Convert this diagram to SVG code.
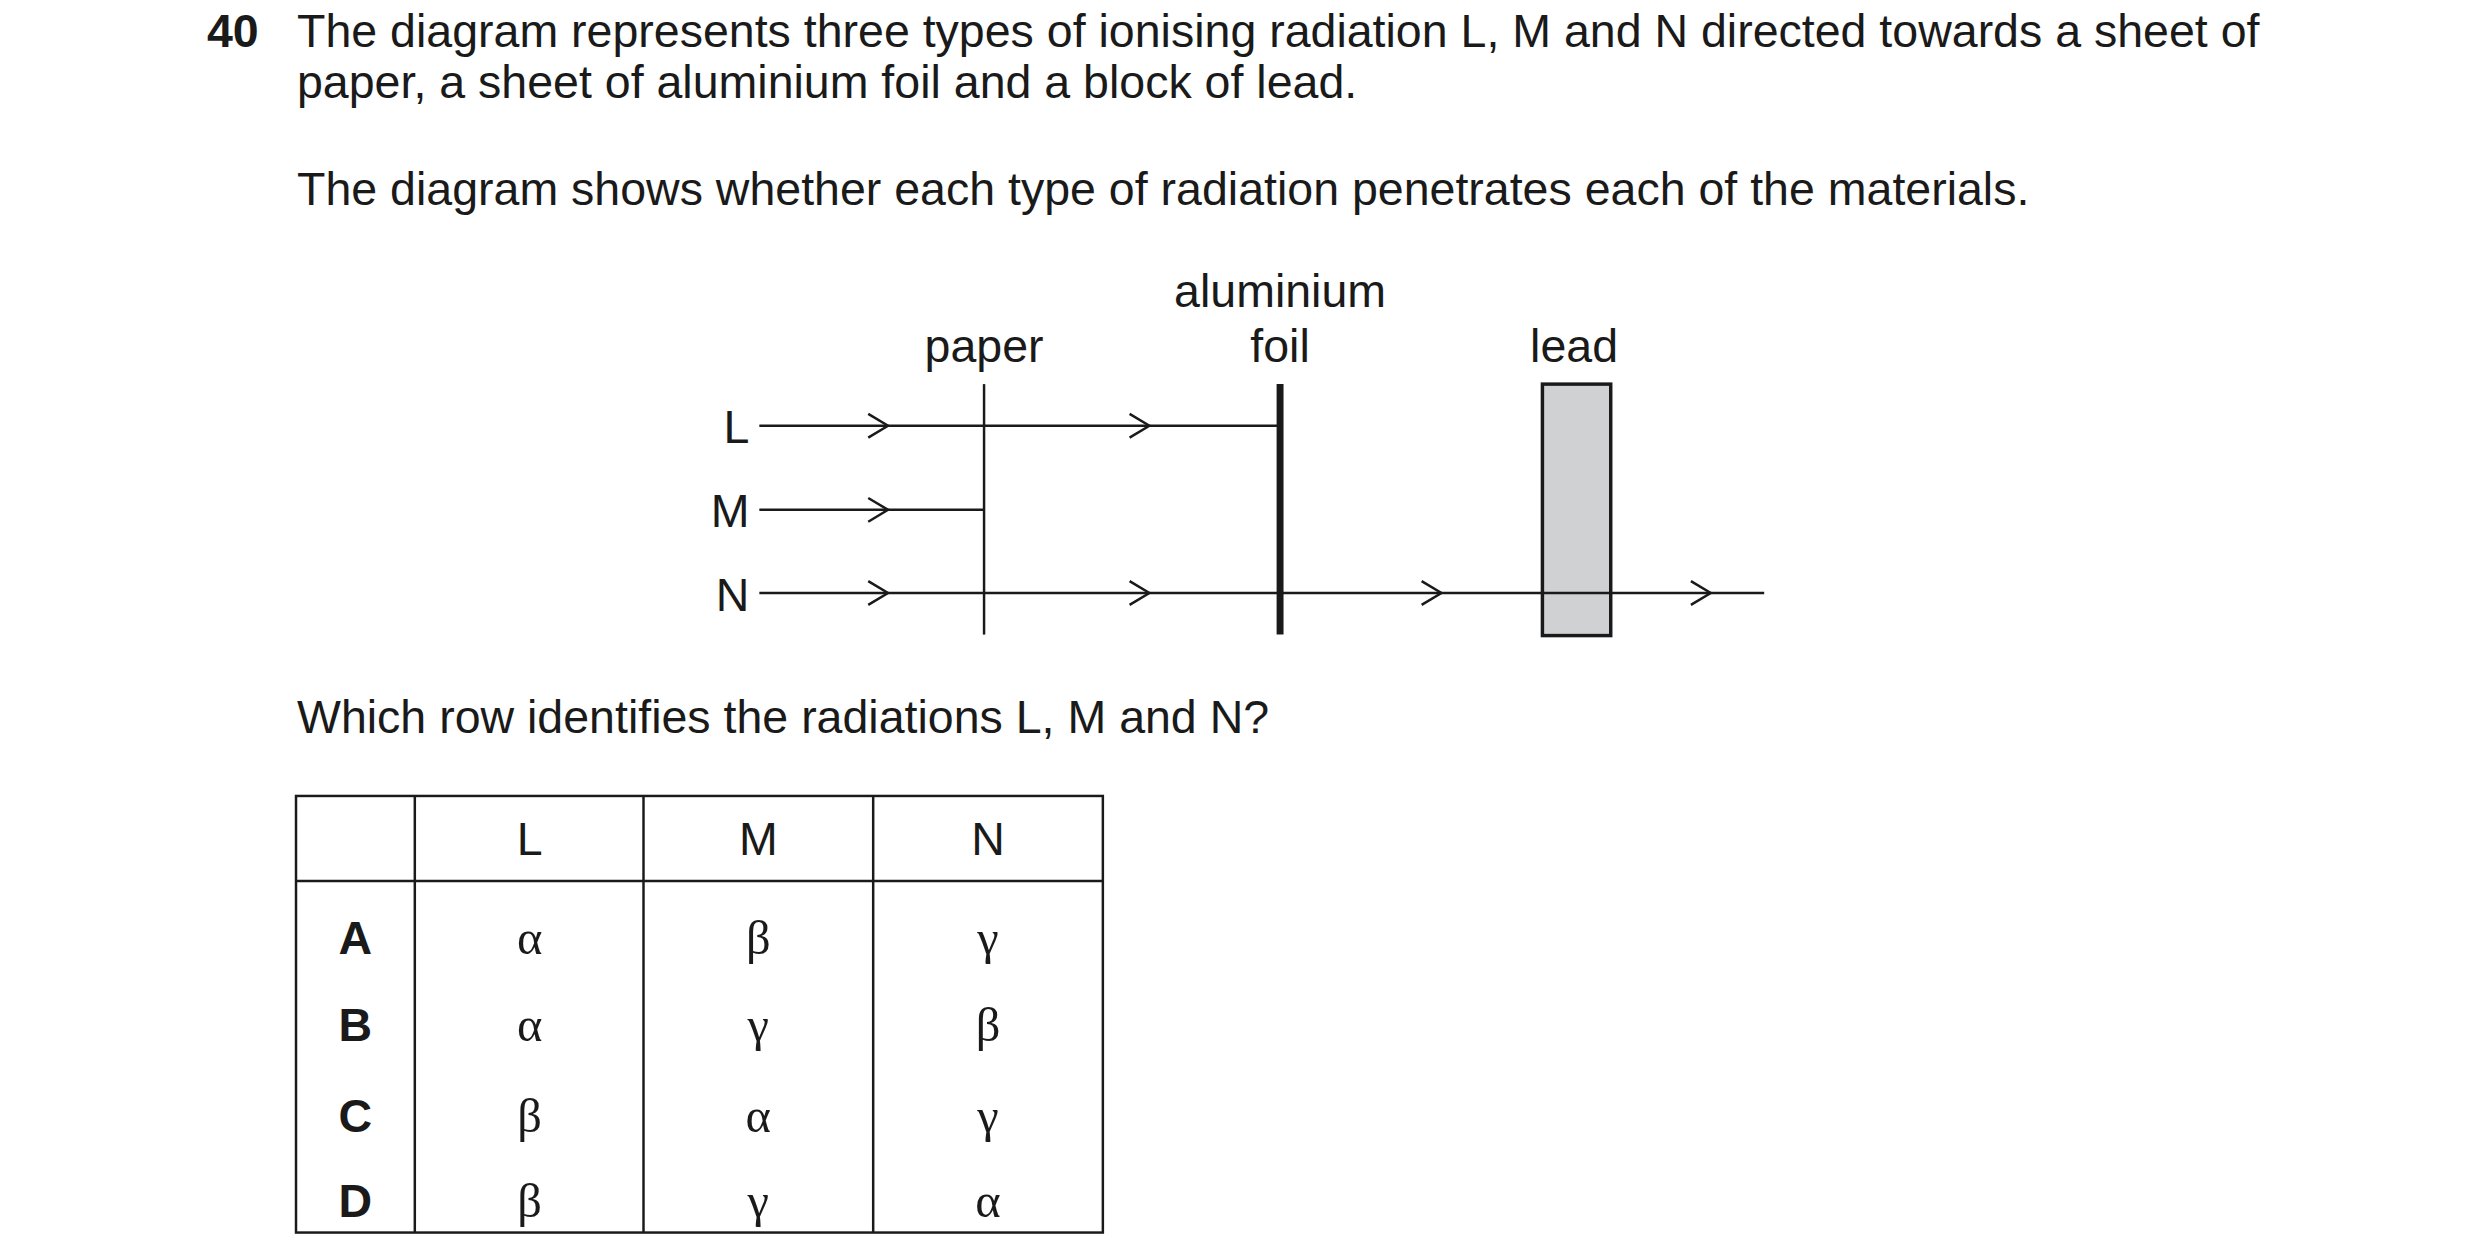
<svg xmlns="http://www.w3.org/2000/svg" width="2480" height="1258" viewBox="0 0 2480 1258">
<style>
text{font-family:"Liberation Sans",Arial,sans-serif;font-size:47px;fill:#1a1a1a}
.b{font-weight:bold}
.c{text-anchor:middle}
.g{font-family:"Liberation Serif","Times New Roman",serif;font-size:49px}
.ln{stroke:#1a1a1a;stroke-width:2.5;fill:none}
.ar{stroke:#1a1a1a;stroke-width:2.5;fill:none}
.tb{stroke:#1a1a1a;stroke-width:2.5;fill:none}
</style>
<defs><path id="ah" d="M-20,-12 L0,0 L-20,12" class="ar"/></defs>
<rect width="2480" height="1258" fill="#fff"/>
<g transform="scale(0.99)">
<text x="209" y="47" class="b">40</text>
<text x="300" y="47">The diagram represents three types of ionising radiation L, M and N directed towards a sheet of</text>
<text x="300" y="99">paper, a sheet of aluminium foil and a block of lead.</text>
<text x="300" y="207">The diagram shows whether each type of radiation penetrates each of the materials.</text>
<g id="paper"><text x="994" y="366" class="c">paper</text><line x1="994" y1="388" x2="994" y2="641" class="ln"/></g>
<g id="foil"><text x="1293" y="310" class="c">aluminium</text><text x="1293" y="366" class="c">foil</text><line x1="1293" y1="388" x2="1293" y2="641" stroke="#1a1a1a" stroke-width="7"/></g>
<g id="lead"><text x="1590" y="366" class="c">lead</text><rect x="1558" y="388" width="69" height="254" fill="#d0d1d3" stroke="#1a1a1a" stroke-width="3.5"/></g>
<g id="labels"><text x="757" y="447" text-anchor="end">L</text><text x="757" y="532" text-anchor="end">M</text><text x="757" y="617" text-anchor="end">N</text></g>
<g id="connectors">
<line x1="767" y1="430" x2="1293" y2="430" class="ln"/>
<line x1="767" y1="515" x2="994" y2="515" class="ln"/>
<line x1="767" y1="599" x2="1782" y2="599" class="ln"/>
<use href="#ah" x="897" y="430"/><use href="#ah" x="1161" y="430"/>
<use href="#ah" x="897" y="515"/>
<use href="#ah" x="897" y="599"/><use href="#ah" x="1161" y="599"/><use href="#ah" x="1456" y="599"/><use href="#ah" x="1728" y="599"/>
</g>
<text x="300" y="740">Which row identifies the radiations L, M and N?</text>
<g id="table">
<rect x="299" y="804" width="815" height="441" class="tb"/>
<line x1="419" y1="804" x2="419" y2="1245" class="tb"/>
<line x1="650" y1="804" x2="650" y2="1245" class="tb"/>
<line x1="882" y1="804" x2="882" y2="1245" class="tb"/>
<line x1="299" y1="890" x2="1114" y2="890" class="tb"/>
<text x="535" y="864" class="c">L</text><text x="766" y="864" class="c">M</text><text x="998" y="864" class="c">N</text>
<text x="359" y="964" class="c b">A</text><text x="359" y="1052" class="c b">B</text><text x="359" y="1143" class="c b">C</text><text x="359" y="1229" class="c b">D</text>
<text x="535" y="964" class="c g">α</text><text x="766" y="964" class="c g">β</text><text x="998" y="964" class="c g">γ</text>
<text x="535" y="1052" class="c g">α</text><text x="766" y="1052" class="c g">γ</text><text x="998" y="1052" class="c g">β</text>
<text x="535" y="1143" class="c g">β</text><text x="766" y="1143" class="c g">α</text><text x="998" y="1143" class="c g">γ</text>
<text x="535" y="1229" class="c g">β</text><text x="766" y="1229" class="c g">γ</text><text x="998" y="1229" class="c g">α</text>
</g>
</g>
</svg>
